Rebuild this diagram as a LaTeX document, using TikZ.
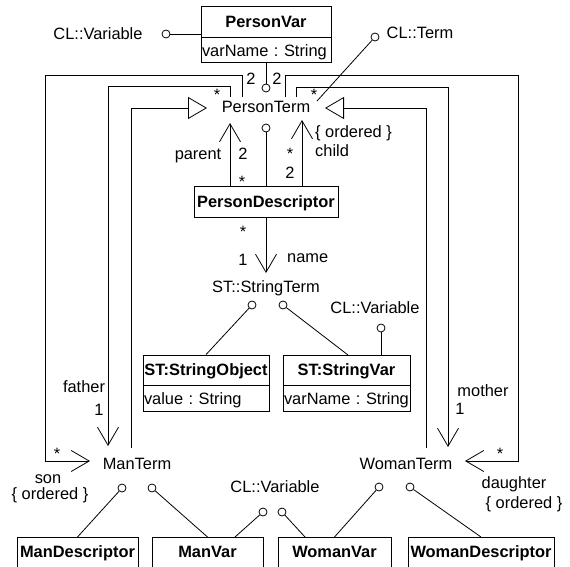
\documentclass[tikz,border=0pt]{standalone}
\usepackage{fontspec}
\setmainfont{Liberation Sans}
\usetikzlibrary{arrows.meta}
\frenchspacing
\begin{document}
\begin{tikzpicture}[x=1pt,y=-1pt,
  every node/.style={font=\fontsize{16.4}{19}\selectfont\frenchspacing},
  line/.style={line width=0.8pt},
  box/.style={draw, line width=0.8pt, inner sep=0pt, text height=11.7pt, text depth=0pt, fill=white},
  attr/.style={box, align=left, inner xsep=1pt},
  lbl/.style={anchor=base, inner sep=0pt},
  lolli/.style={draw, circle, line width=0.8pt, minimum size=8pt, inner sep=0pt, fill=white},
  assoc/.style={line, -{Straight Barb[length=18pt, width=21pt, line width=0.8pt]}},
  gen/.style={line, -{Triangle[open, length=19pt, width=22pt, line width=0.8pt, fill=white]}}
]
\clip (0,0) rectangle (570,567);
\useasboundingbox (0,0) rectangle (570,567);

% ---------- PersonVar ----------
\node[box, minimum width=130pt, minimum height=31pt] (pvT) at (266,21.5) {\bfseries PersonVar};
\node[attr, minimum width=130pt, minimum height=25pt, text width=128pt, anchor=north] (pvA) at (pvT.south) {varName : String};

\node[lbl] (clv1) at (98,40) {CL::Variable};
\node[lolli] (c1) at (166,34) {};
\draw[line] (c1.east) -- (c1.east -| pvT.west);

\node[lolli] (c2) at (266,88) {};
\draw[line] (pvA.south) -- (c2.north);

\node[lbl] (clt) at (420,39) {CL::Term};
\node[lolli] (c4) at (375,37) {};

% ---------- PersonTerm ----------
\node[lbl] (pt) at (266,113) {PersonTerm};
\coordinate (ptSonEnd) at (242,97);
\coordinate (ptFatEnd) at (230,97);
\coordinate (ptDauEnd) at (285,97);
\coordinate (ptMotEnd) at (296,97);
\coordinate (ptGenL) at (207,108);
\coordinate (ptGenR) at (325,108);
\coordinate (ptTermEnd) at (317,101);
\coordinate (ptParent) at (230,123);
\coordinate (ptChild) at (302,120);
\node[lolli] (c3) at (266,128) {};

\draw[line] (c4) -- (ptTermEnd);

% ---------- PersonDescriptor ----------
\node[box, minimum width=144pt, minimum height=31pt] (pd) at (266,201.5) {\bfseries PersonDescriptor};
\draw[assoc] (pd.north -| ptParent) -- (ptParent);
\draw[assoc] (pd.north -| ptChild) -- (ptChild);
\draw[line] (pd.north) -- (c3.south);

\node[lbl] (lparent) at (198,159) {parent};
\node[lbl] (lp2) at (243,159) {2};
\node[lbl] (lps) at (242,187) {*};
\node[lbl, anchor=base west] (lord1) at (315,138) {\{ ordered \}};
\node[lbl, anchor=base west] (lchild) at (315,157) {child};
\node[lbl] (lcs) at (290,160) {*};
\node[lbl] (lc2) at (290,178) {2};

\node[lbl] (l2a) at (251,85) {2};
\node[lbl] (l2b) at (277,85) {2};
\node[lbl] (ls1) at (217,101) {*};
\node[lbl] (ls2) at (314,101) {*};

% ---------- StringTerm ----------
\node[lbl] (st) at (266,292) {ST::StringTerm};
\coordinate (stName) at (266,273);
\draw[assoc] (pd.south) -- (stName);
\node[lbl] (lns) at (243,237) {*};
\node[lbl] (ln1) at (243,265) {1};
\node[lbl, anchor=base west] (lname) at (287,262) {name};

\node[lolli] (c5) at (252,305) {};
\node[lolli] (c6) at (283,305) {};

\node[box, minimum width=126pt, minimum height=30pt] (soT) at (206,370) {\bfseries ST:StringObject};
\node[attr, minimum width=126pt, minimum height=26pt, text width=124pt, anchor=north] (soA) at (soT.south) {value : String};

\node[box, minimum width=127pt, minimum height=30pt] (svT) at (346.5,370) {\bfseries ST:StringVar};
\node[attr, minimum width=127pt, minimum height=26pt, text width=125pt, anchor=north] (svA) at (svT.south) {varName : String};

\coordinate (svTop) at (348,355);
\draw[line] (c5) -- (soT.north);
\draw[line] (c6) -- (svTop);

\node[lbl] (clv2) at (375,313) {CL::Variable};
\node[lolli] (c7) at (381,328) {};
\draw[line] (c7.south) -- (c7.south |- svT.north);

% ---------- ManTerm / WomanTerm ----------
\node[lbl] (mt) at (137,469) {ManTerm};
\node[lbl] (wt) at (406,469) {WomanTerm};
\coordinate (mtSon) at (90,461);
\coordinate (mtFather) at (108,446);
\coordinate (mtGen) at (131,448);
\coordinate (wtDau) at (465,461);
\coordinate (wtMother) at (448,447);
\coordinate (wtGen) at (426,448);

\coordinate (sonC) at (45,75);
\coordinate (fatC) at (108,86);
\coordinate (dauC) at (518,75);
\coordinate (motC) at (448,87);

\draw[assoc] (ptSonEnd) |- (sonC) |- (mtSon);
\draw[assoc] (ptFatEnd) |- (fatC) -- (mtFather);
\draw[gen] (mtGen) |- (ptGenL);
\draw[gen] (wtGen) |- (ptGenR);
\draw[assoc] (ptDauEnd) |- (dauC) |- (wtDau);
\draw[assoc] (ptMotEnd) |- (motC) -- (wtMother);

\node[lbl] (lfather) at (84,392) {father};
\node[lbl] (lf1) at (99,415) {1};
\node[lbl] (lmother) at (483,396) {mother};
\node[lbl] (lm1) at (460,414) {1};
\node[lbl] (lss) at (57,459) {*};
\node[lbl] (lson) at (48,483) {son};
\node[lbl] (lord2) at (50,499) {\{ ordered \}};
\node[lbl] (lds) at (500,459) {*};
\node[lbl] (ldau) at (514,488) {daughter};
\node[lbl] (lord3) at (524,508) {\{ ordered \}};

% ---------- bottom ----------
\node[lolli] (c8) at (122,488) {};
\node[lolli] (c9) at (152,488) {};
\node[lbl] (clv3) at (275,492) {CL::Variable};
\node[lolli] (c10) at (263,512) {};
\node[lolli] (c11) at (282,512) {};
\node[lolli] (c12) at (379,487) {};
\node[lolli] (c13) at (410,487) {};

\node[box, minimum width=121pt, minimum height=40pt, anchor=north] (md) at (77.5,537) {};
\node[box, minimum width=111pt, minimum height=40pt, anchor=north] (mv) at (207.5,537) {};
\node[box, minimum width=113pt, minimum height=40pt, anchor=north] (wv) at (334.5,537) {};
\node[box, minimum width=146pt, minimum height=40pt, anchor=north] (wd) at (481,537) {};
\node[lbl] (mdt) at (md.north |- 0,557) {\bfseries ManDescriptor};
\node[lbl] (mvt) at (mv.north |- 0,557) {\bfseries ManVar};
\node[lbl] (wvt) at (wv.north |- 0,557) {\bfseries WomanVar};
\node[lbl] (wdt) at (wd.north |- 0,557) {\bfseries WomanDescriptor};

\coordinate (mvR) at (235,537);
\coordinate (wvL) at (305,537);
\draw[line] (c8) -- (md.north);
\draw[line] (c9) -- (mv.north);
\draw[line] (c10) -- (mvR);
\draw[line] (c11) -- (wvL);
\draw[line] (c12) -- (wv.north);
\draw[line] (c13) -- (wd.north);
\end{tikzpicture}
\end{document}
